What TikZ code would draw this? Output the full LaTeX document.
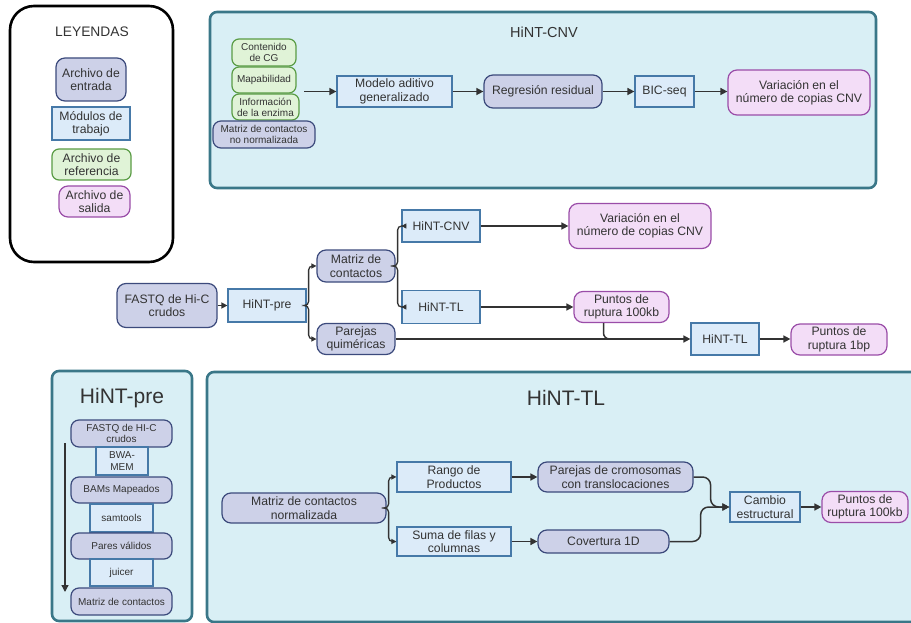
\documentclass[tikz,border=0pt]{standalone}
\usepackage{fontspec}
\setmainfont{Liberation Sans}
\usetikzlibrary{arrows.meta}
\definecolor{lavF}{HTML}{CDD1E8}
\definecolor{lavD}{HTML}{3C4A7C}
\definecolor{bluF}{HTML}{DCEBF9}
\definecolor{bluD}{HTML}{4679A8}
\definecolor{grnF}{HTML}{E0F3D7}
\definecolor{grnD}{HTML}{5A9C45}
\definecolor{pnkF}{HTML}{F3DDF7}
\definecolor{pnkD}{HTML}{9A4DA8}
\definecolor{panF}{HTML}{D9EFF5}
\definecolor{panD}{HTML}{3A7788}
\definecolor{txt}{HTML}{333333}
\tikzset{
  base/.style={align=center, inner sep=1pt, text=txt, font=\fontsize{12.2}{13.4}\selectfont, line width=1.2pt},
  small/.style={font=\fontsize{10}{11.2}\selectfont},
  inp/.style={base, draw=lavD, fill=lavF, rounded corners=9pt},
  mod/.style={base, draw=bluD, fill=bluF},
  refb/.style={base, draw=grnD, fill=grnF, rounded corners=7pt},
  outp/.style={base, draw=pnkD, fill=pnkF, rounded corners=9pt},
  panel/.style={draw=panD, fill=panF, line width=2.6pt, rounded corners=7pt, inner sep=0pt},
  sz/.style 2 args={minimum width=#1pt, minimum height=#2pt},
  arr/.style={draw=txt, line width=1.5pt, -{Triangle[length=7pt,width=7pt]}},
  brr/.style={draw=txt, line width=1.3pt, rounded corners=4pt, -{Triangle[length=5pt,width=5pt]}},
  ttl/.style={text=txt, inner sep=0pt}
}
\begin{document}
\begin{tikzpicture}[x=1pt,y=-1pt]
\useasboundingbox (0,0) rectangle (911,623);
\clip (0,0) rectangle (911,623);
\fill[white] (0,0) rectangle (911,623);

% ---------- Legend ----------
\node[draw=black, line width=2.6pt, rounded corners=24pt, sz={163}{256}] (leg) at (91.5,134) {};
\node[ttl, font=\fontsize{13.8}{15}\selectfont] (legt) at (92,32) {LEYENDAS};
\node[inp, sz={70}{43}] (l1) at (91,79.5) {Archivo de\\entrada};
\node[mod, sz={78}{33}] (l2) at (91,123.5) {Módulos de\\trabajo};
\node[refb, sz={79}{31}] (l3) at (91.5,164.5) {Archivo de\\referencia};
\node[outp, sz={71}{31}] (l4) at (94.5,201.5) {Archivo de\\salida};

% ---------- HiNT-CNV panel ----------
\node[panel, sz={666}{176}] (cnvp) at (543,100) {};
\node[ttl, font=\fontsize{14.5}{16}\selectfont] (cnvt) at (544,32) {HiNT-CNV};
\node[refb, small, sz={64}{27}] (cg) at (264,52.5) {Contenido\\de CG};
\node[refb, small, sz={64}{26}] (map) at (264,80) {Mapabilidad};
\node[refb, small, sz={67}{26}] (enz) at (265.5,107) {Información\\de la enzima};
\node[inp, small, rounded corners=8pt, sz={102}{27}] (mnn) at (264,134.5) {Matriz de contactos\\no normalizada};
\coordinate (gin) at (304,91.5);
\node[mod, sz={115}{31}] (mag) at (394.5,91.5) {Modelo aditivo\\generalizado};
\node[inp, sz={118}{33}] (rr) at (543,91.5) {Regresión residual};
\node[mod, sz={59}{31}] (bic) at (664.5,91.5) {BIC-seq};
\node[outp, sz={142}{45}] (var1) at (799,92.5) {Variación en el\\número de copias CNV};
\draw[arr] (gin) -- (mag.west);
\draw[arr] (mag) -- (rr);
\draw[arr] (rr) -- (bic);
\draw[arr] (bic) -- (var1.west |- bic);

% ---------- Middle flow ----------
\node[inp, sz={100}{44}] (fq) at (167,305.5) {FASTQ de Hi-C\\crudos};
\node[mod, sz={78}{33}] (pre) at (267,305.5) {HiNT-pre};
\node[inp, sz={78}{32}] (mc) at (356,266) {Matriz de\\contactos};
\node[inp, sz={78}{31}] (pq) at (356,339) {Parejas\\quiméricas};
\node[mod, sz={78}{32}] (cnv) at (441,226) {HiNT-CNV};
\node[mod, sz={78}{33}] (tl) at (441,307) {HiNT-TL};
\node[outp, sz={142}{45}] (var2) at (640,226) {Variación en el\\número de copias CNV};
\node[outp, sz={95}{31}] (p100) at (621.5,307) {Puntos de\\ruptura 100kb};
\node[mod, sz={68}{32}] (tl2) at (725,339) {HiNT-TL};
\node[outp, sz={96}{31}] (p1) at (839,339.5) {Puntos de\\ruptura 1bp};
\draw[arr, line width=1.3pt, -{Triangle[length=6pt,width=6pt]}] (fq) -- (pre);
\draw[brr] (pre.east) -- ++(2,0) |- (mc.west);
\draw[brr] (pre.east) -- ++(2,0) |- (pq.west);
\draw[brr] (mc.east) -- ++(2,0) |- (cnv.west);
\draw[brr] (mc.east) -- ++(2,0) |- (tl.west);
\draw[arr] (cnv) -- (var2);
\draw[arr] (tl) -- (p100);
\draw[draw=txt, line width=1.5pt, rounded corners=6pt] ([xshift=-18pt]p100.south) |- ([xshift=-40pt]tl2.west);
\draw[arr] (pq) -- (tl2);
\draw[arr] (tl2) -- (p1.west |- tl2);

% ---------- HiNT-pre panel ----------
\node[panel, sz={140}{250}] (prep) at (122,496) {};
\node[ttl, font=\fontsize{21}{23}\selectfont] (pret) at (122,398) {HiNT-pre};
\node[inp, small, rounded corners=8pt, sz={101}{27}] (f2) at (121.5,433.5) {FASTQ de HI-C\\crudos};
\node[mod, small, sz={52}{28}] (bwa) at (122,461) {BWA-\\MEM};
\node[inp, small, rounded corners=8pt, sz={101}{26}] (bam) at (121.5,490) {BAMs Mapeados};
\node[mod, small, sz={63}{28}] (sam) at (121.5,518) {samtools};
\node[inp, small, rounded corners=8pt, sz={101}{26}] (pv) at (121.5,546) {Pares válidos};
\node[mod, small, sz={63}{27}] (jui) at (121.5,572.5) {juicer};
\node[inp, small, rounded corners=8pt, sz={101}{27}] (mc2) at (121.5,601.5) {Matriz de contactos};
\coordinate (pa) at (65,443);
\coordinate (pb) at (65,592);
\draw[arr, line width=1.3pt] (pa) -- (pb);

% ---------- HiNT-TL panel ----------
\node[panel, sz={713}{250}] (tlp) at (563.5,497) {};
\node[ttl, font=\fontsize{21}{23}\selectfont] (tlt) at (566,398) {HiNT-TL};
\node[inp, sz={164}{30}] (mcn) at (304,508) {Matriz de contactos\\normalizada};
\node[mod, sz={114}{30}] (rp) at (454,477) {Rango de\\Productos};
\node[mod, sz={114}{29}] (sf) at (454,541.5) {Suma de filas y\\columnas};
\node[inp, sz={155}{30}] (pc) at (615.5,477) {Parejas de cromosomas\\con translocaciones};
\node[inp, sz={131}{23}] (cov) at (603.5,541.5) {Covertura 1D};
\node[mod, sz={70}{30}] (ce) at (765,507) {Cambio\\estructural};
\node[outp, sz={86}{31}] (pout) at (865,507) {Puntos de\\ruptura 100kb};
\draw[brr] (mcn.east) -- ++(2,0) |- (rp.west);
\draw[brr] (mcn.east) -- ++(2,0) |- (sf.west);
\draw[arr] (rp) -- (pc);
\draw[arr] (sf) -- (cov);
\draw[arr, rounded corners=8pt] (pc.east) -- ++(17,0) |- (ce.west);
\draw[arr, rounded corners=8pt] (cov.east) -- ++(31,0) |- (ce.west);
\draw[arr] (ce) -- (pout);
\end{tikzpicture}
\end{document}
